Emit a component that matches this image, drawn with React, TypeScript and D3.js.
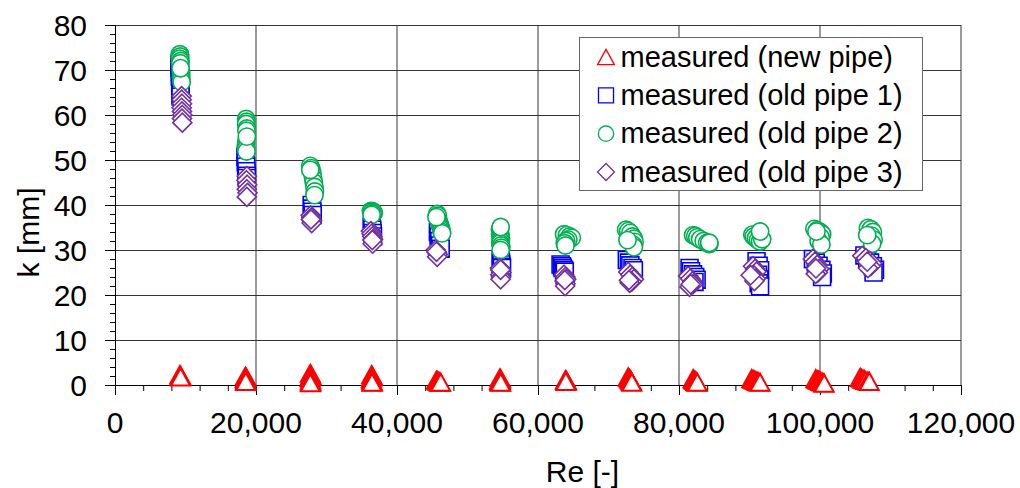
import React from "react";
import * as d3 from "d3";

// ---- data: [Re, k] ----
const newPipe: [number, number][] = [
  [9200, 2.3], [9300, 2.1], [9250, 2.0], [9350, 1.9], [9300, 1.8],
  [18500, 2.0], [18600, 1.7], [18450, 1.4], [18550, 1.2], [18600, 1.0], [18500, 0.9], [18550, 0.8],
  [27700, 2.6], [27800, 2.2], [27750, 2.0], [27650, 1.6], [27750, 1.2], [27700, 0.9], [27800, 0.7], [27700, 0.5],
  [36400, 2.3], [36500, 2.0], [36450, 1.8], [36350, 1.4], [36400, 1.1], [36450, 0.9], [36500, 0.7], [36450, 0.6],
  [45600, 1.1], [45700, 1.0], [45800, 0.9], [45900, 0.8], [46000, 0.7], [46100, 0.65], [46200, 0.6],
  [54600, 1.6], [54700, 1.4], [54650, 1.2], [54550, 1.0], [54600, 0.8], [54650, 0.7], [54700, 0.6],
  [63900, 1.2], [64000, 1.1], [63950, 1.0], [64050, 0.9], [63950, 0.8],
  [72800, 1.8], [72900, 1.6], [73000, 1.4], [73100, 1.2], [73200, 1.0], [73250, 0.8], [73300, 0.6],
  [82000, 1.4], [82100, 1.2], [82200, 1.1], [82300, 1.0], [82400, 0.8], [82500, 0.7], [82600, 0.6],
  [90300, 1.4], [90500, 1.3], [90700, 1.1], [90900, 1.0], [91100, 0.8], [91300, 0.7], [91500, 0.6],
  [99400, 1.4], [99600, 1.2], [99800, 1.1], [99900, 1.0], [100100, 0.8], [100300, 0.7], [100500, 0.5], [100600, 0.4],
  [105700, 1.7], [105900, 1.5], [106100, 1.3], [106300, 1.2], [106500, 1.0], [106800, 0.9], [107000, 0.8],
];

const oldPipe1: [number, number][] = [
  [9150, 71.4], [9150, 70.5], [9200, 69.5], [9200, 68.5], [9250, 67.5], [9250, 66.5], [9300, 65.5], [9300, 64.5], [9300, 64.1],
  [18500, 50.7], [18550, 49.5], [18600, 48.5], [18650, 47.5], [18700, 46.5], [18700, 46.0],
  [27900, 40.0], [27950, 39.2], [28000, 38.5], [28050, 37.8],
  [36400, 35.2], [36500, 34.5], [36550, 33.8], [36600, 33.0],
  [45800, 34.0], [45900, 33.0], [46000, 32.0], [46100, 31.0], [46200, 30.3],
  [54700, 27.8], [54750, 27.3], [54800, 26.8], [54850, 26.3], [54900, 26.0],
  [63200, 26.8], [63400, 26.4], [63500, 26.0], [63700, 25.6], [63800, 25.2],
  [72600, 27.8], [72900, 27.2], [73100, 26.6], [73400, 26.0], [73600, 25.5],
  [81500, 26.0], [81700, 25.3], [82000, 24.6], [82300, 24.0], [82500, 23.4], [82200, 22.9],
  [91000, 27.5], [91300, 26.5], [91500, 25.5], [91200, 24.5], [91400, 23.5], [91300, 22.6], [91500, 21.9],
  [99000, 28.0], [99400, 27.2], [99800, 26.5], [100200, 25.6], [100400, 24.8], [100300, 24.0],
  [106300, 28.8], [106700, 28.0], [107100, 27.2], [107500, 26.4], [107800, 25.6], [107600, 25.0],
];

const oldPipe2: [number, number][] = [
  [9200, 73.5], [9250, 73.0], [9200, 72.5], [9300, 72.0], [9250, 71.5], [9350, 69.5], [9400, 69.0], [9350, 68.5], [9400, 68.0], [9450, 67.3], [9300, 70.4],
  [18600, 59.1], [18650, 58.5], [18600, 58.0], [18700, 57.0], [18650, 56.5], [18600, 54.0], [18550, 53.0], [18600, 52.5], [18650, 51.9], [18700, 55.2],
  [27700, 48.7], [27800, 48.2], [27900, 47.6], [28000, 47.0], [28100, 46.0], [28200, 45.0], [28300, 44.0], [28350, 43.0], [28300, 42.2], [27700, 47.8],
  [36300, 38.7], [36500, 38.6], [36600, 38.5], [36400, 38.3], [36700, 38.2], [36550, 38.0], [36400, 37.8],
  [45700, 38.0], [45800, 37.6], [45900, 36.5], [46000, 36.0], [46100, 35.5], [46200, 35.0], [46300, 34.5], [46350, 34.0], [46400, 33.7], [45600, 37.3],
  [54600, 34.5], [54650, 33.5], [54700, 33.0], [54750, 32.5], [54700, 32.0], [54650, 31.5], [54750, 31.0], [54800, 30.5], [54700, 30.0], [54700, 35.1],
  [63700, 33.5], [64100, 33.3], [64500, 33.0], [64800, 32.7], [64300, 32.3], [64000, 32.0], [63800, 31.5], [63900, 31.0],
  [72500, 34.5], [72800, 34.2], [73100, 33.8], [73400, 33.0], [73600, 32.5], [73700, 31.8], [73500, 31.2], [73600, 30.6], [72700, 32.2],
  [82000, 33.3], [82300, 33.1], [82600, 32.8], [83000, 32.4], [83500, 32.0], [84000, 31.6], [84300, 31.3], [84300, 31.6],
  [90400, 33.4], [90600, 33.0], [90900, 32.6], [91200, 32.2], [91500, 31.9], [91800, 32.4], [91500, 34.1],
  [99200, 34.7], [99600, 34.4], [100000, 34.0], [100300, 33.5], [100100, 32.8], [99800, 32.0], [100200, 31.2], [99500, 34.1],
  [106800, 34.9], [107200, 34.6], [107500, 34.0], [107300, 33.2], [107600, 32.3], [107400, 31.4], [106700, 33.3],
];

const oldPipe3: [number, number][] = [
  [9450, 64.2], [9450, 63.4], [9500, 62.5], [9450, 61.6], [9500, 60.8], [9550, 60.0], [9500, 59.2], [9550, 58.3],
  [18700, 46.4], [18650, 45.5], [18750, 44.5], [18700, 43.5], [18800, 42.7], [18700, 41.8],
  [27750, 37.7], [27850, 37.2], [27950, 36.5], [27900, 36.0], [27800, 36.8],
  [36300, 34.2], [36400, 33.6], [36500, 33.0], [36600, 32.4], [36550, 31.4], [36500, 32.2],
  [45500, 30.0], [45650, 29.5], [45800, 29.0], [45700, 28.5], [45600, 29.6],
  [54600, 26.0], [54700, 25.5], [54800, 25.0], [54650, 24.5], [54750, 24.0], [54700, 23.5], [54700, 25.6],
  [63700, 24.5], [63900, 24.0], [64000, 23.5], [63800, 23.0], [63900, 22.5], [63850, 22.0], [63800, 23.3],
  [72800, 25.1], [73100, 24.5], [73400, 24.0], [73600, 23.5], [73300, 23.0], [73000, 22.7], [72900, 23.3],
  [81300, 24.2], [81600, 23.6], [81900, 23.0], [82000, 22.4], [81500, 21.8], [81650, 22.4],
  [90500, 26.4], [90800, 25.8], [91000, 25.2], [90600, 24.4], [90900, 23.6], [90700, 23.1], [90170, 24.4],
  [99000, 28.0], [99300, 27.4], [99600, 26.7], [99900, 25.8], [99700, 25.0], [99400, 24.7], [99430, 25.9],
  [106000, 28.7], [106500, 28.2], [107000, 27.6], [107400, 27.0], [107200, 26.4], [106800, 26.0], [106700, 27.4],
];

const seriesNames = [
  "measured (new pipe)",
  "measured (old pipe 1)",
  "measured (old pipe 2)",
  "measured (old pipe 3)",
];

const xTicks = [0, 20000, 40000, 60000, 80000, 100000, 120000];
const yTicks = [0, 10, 20, 30, 40, 50, 60, 70, 80];

// ---- layout ----
const W = 1020;
const H = 488;
const FONT = "'Liberation Sans', Arial, sans-serif";

const x = d3.scaleLinear().domain([0, 120000]).range([115, 961]);
const y = d3.scaleLinear().domain([0, 80]).range([385, 25]);

type Shape = "triangle" | "square" | "circle" | "diamond";

function markerPath(shape: Shape, s: number): string {
  if (shape === "triangle") {
    const w = s * 1.05, h = s * 0.95;
    return `M0,${-h / 2}L${w / 2},${h / 2}L${-w / 2},${h / 2}Z`;
  }
  if (shape === "square") {
    const a = s * 0.47;
    return `M${-a},${-a}H${a}V${a}H${-a}Z`;
  }
  if (shape === "diamond") {
    const a = s * 0.53;
    return `M0,${-a}L${a},0L0,${a}L${-a},0Z`;
  }
  const r = s * 0.48;
  return `M${r},0A${r},${r} 0 1,1 ${-r},0A${r},${r} 0 1,1 ${r},0Z`;
}

const series: { name: string; data: [number, number][]; shape: Shape; color: string }[] = [
  { name: seriesNames[0], data: newPipe, shape: "triangle", color: "#FF0000" },
  { name: seriesNames[1], data: oldPipe1, shape: "square", color: "#0000FF" },
  { name: seriesNames[2], data: oldPipe2, shape: "circle", color: "#00B050" },
  { name: seriesNames[3], data: oldPipe3, shape: "diamond", color: "#7030A0" },
];

export default function App() {
  const fmt = d3.format(",");
  const xMinor = d3.range(0, 120001, 4000);
  const yMinor = d3.range(0, 80.001, 2);
  const legendRows = [57, 95.3, 133.7, 172];
  return (
    <svg width={W} height={H} style={{ position: "absolute", left: 0, top: 0, background: "#fff" }} fontFamily={FONT}>
      {/* vertical gridlines */}
      {xTicks.slice(1).map((t) => (
        <line key={"gx" + t} x1={x(t)} x2={x(t)} y1={y(80)} y2={y(0)} stroke="#7a7a7a" strokeWidth={1.5} />
      ))}
      {/* horizontal gridlines */}
      {yTicks.slice(1).map((t) => (
        <line key={"gy" + t} x1={x(0)} x2={x(120000)} y1={y(t) + 0.5} y2={y(t) + 0.5} stroke="#333" strokeWidth={1} />
      ))}
      {/* axes */}
      <line x1={x(0) + 0.5} x2={x(0) + 0.5} y1={y(80)} y2={y(0)} stroke="#000" strokeWidth={1} />
      <line x1={x(0)} x2={x(120000)} y1={y(0) + 0.5} y2={y(0) + 0.5} stroke="#000" strokeWidth={1} />
      {xMinor.map((t) => (
        <line key={"xm" + t} x1={x(t) + 0.5} x2={x(t) + 0.5} y1={y(0)} y2={y(0) + (t % 20000 === 0 ? 10 : 6)} stroke="#000" strokeWidth={1} />
      ))}
      {yMinor.map((t) => (
        <line key={"ym" + t} x1={x(0) - (Math.round(t) % 10 === 0 ? 10 : 5)} x2={x(0)} y1={y(t) + 0.5} y2={y(t) + 0.5} stroke="#000" strokeWidth={1} />
      ))}
      {/* tick labels */}
      {xTicks.map((t) => (
        <text key={"xl" + t} x={x(t)} y={433} textAnchor="middle" fontSize={30} fill="#000">
          {fmt(t)}
        </text>
      ))}
      {yTicks.map((t) => (
        <text key={"yl" + t} x={87} y={y(t) + 10.7} textAnchor="end" fontSize={30} fill="#000">
          {t}
        </text>
      ))}
      {/* axis titles */}
      <text x={582.5} y={482} textAnchor="middle" fontSize={30} fill="#000">
        Re [-]
      </text>
      <text transform={`translate(39,232.5) rotate(-90)`} textAnchor="middle" fontSize={30} fill="#000">
        k [mm]
      </text>
      {/* markers */}
      {series.map((s) => (
        <g key={s.name}>
          {s.data.map((d, i) => (
            <path
              key={i}
              d={markerPath(s.shape, 18)}
              transform={`translate(${x(d[0])},${y(d[1])})`}
              fill="#fff"
              stroke={s.color}
              strokeWidth={s.shape === "triangle" ? 2 : 1.6}
            />
          ))}
        </g>
      ))}
      {/* legend */}
      <rect x={579.5} y={37.5} width={343} height={153} fill="#fff" stroke="#666" strokeWidth={1} />
      {series.map((s, i) => (
        <g key={"lg" + i}>
          <path d={markerPath(s.shape, 16)} transform={`translate(606,${legendRows[i]})`} fill="#fff" stroke={s.color} strokeWidth={1.3} />
          <text x={620.5} y={legendRows[i] + 9.5} fontSize={29} fill="#000">
            {s.name}
          </text>
        </g>
      ))}
    </svg>
  );
}
